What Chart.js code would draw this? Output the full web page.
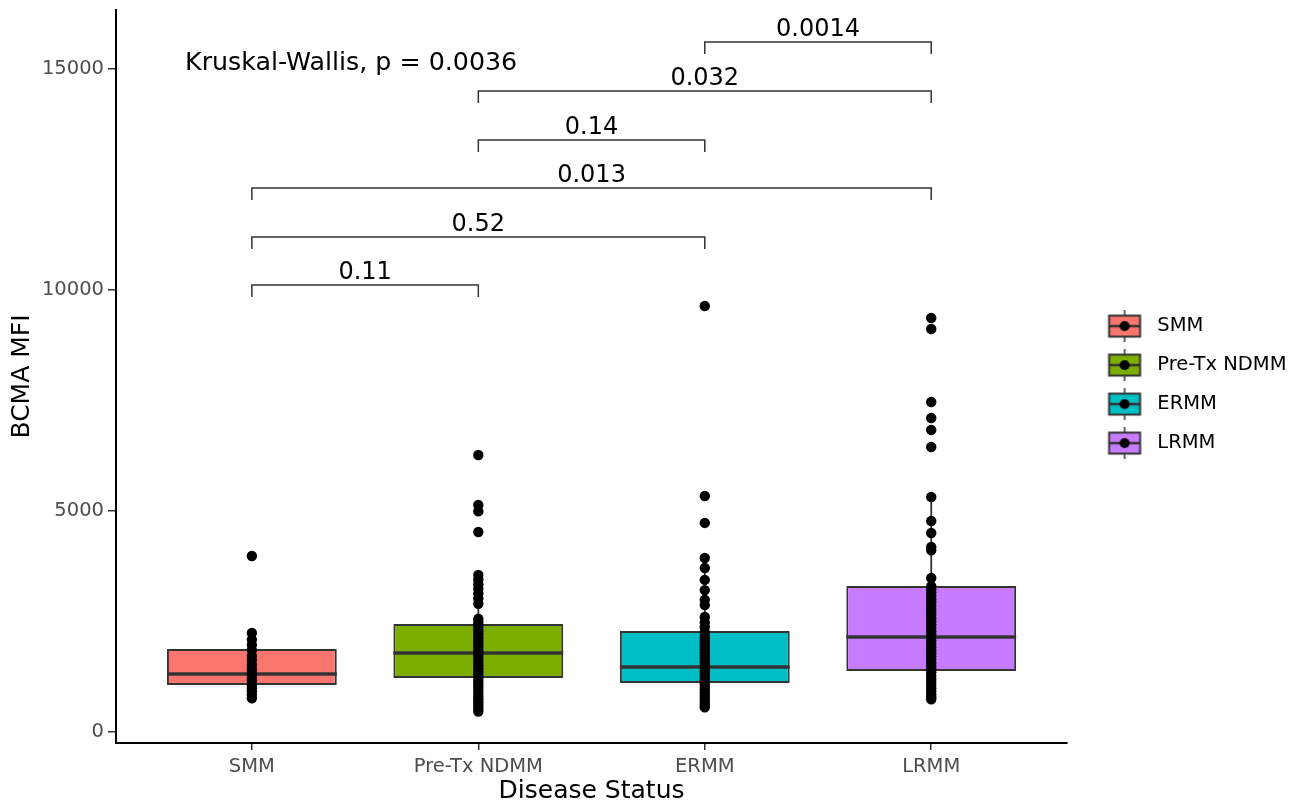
<!DOCTYPE html>
<html>
<head>
<meta charset="utf-8">
<title>BCMA MFI by disease status</title>
<script src="https://cdn.jsdelivr.net/npm/chart.js@4.4.1/dist/chart.umd.min.js"></script>
<style>
    html, body { margin: 0; padding: 0; background: #fff; }
    #wrap { width: 1302px; height: 807px; }
</style>
</head>
<body>
<div id="wrap"><canvas id="bcma-chart"></canvas></div>
<script>
// categories and box colours
const categories = ["SMM", "Pre-Tx NDMM", "ERMM", "LRMM"];
const boxColors = ["#F8766D", "#7CAE00", "#00BFC4", "#C77CFF"];

// box statistics
const q1Values = [1063, 1222, 1109, 1380];
const medianValues = [1312, 1787, 1470, 2149];
const q3Values = [1878, 2443, 2285, 3303];
const whiskerLow = [760, 460, 560, 740];
const whiskerHigh = [2240, 3552, 3937, 5317];

// individual measurements (dots)
const smmPoints = [3980, 2240, 2090, 1970, 1850, 1720, 1630, 1520, 1430, 1360, 1290, 1210, 1140, 1060, 990, 920, 840, 760];
const preTxPoints = [6267, 5135, 4990, 4525, 3552, 3450, 3340, 3240, 3130, 3020, 2900, 2560, 2490, 2420, 2350, 2280, 2210,
    2140, 2070, 2000, 1930, 1860, 1790, 1720, 1650, 1580, 1510, 1440, 1370, 1300, 1230, 1160, 1090, 1020, 950, 880, 810,
    740, 670, 600, 530, 460];
const ermmPoints = [9638, 5339, 4729, 3937, 3710, 3440, 3210, 2990, 2870, 2600, 2480, 2375, 2250, 2150, 2080, 2010, 1940,
    1870, 1800, 1730, 1660, 1590, 1520, 1450, 1380, 1310, 1240, 1170, 1100, 1030, 960, 890, 820, 750, 680, 610, 560];
const lrmmPoints = [9366, 9118, 7466, 7104, 6833, 6448, 5317, 4774, 4502, 4186, 4110, 3484, 3300, 3230, 3160, 3080, 3010,
    2940, 2860, 2790, 2720, 2650, 2570, 2500, 2430, 2360, 2280, 2210, 2140, 2070, 2000, 1920, 1850, 1780, 1710, 1640, 1560,
    1490, 1420, 1350, 1270, 1200, 1130, 1060, 990, 920, 850, 790, 740];
const groupPoints = [smmPoints, preTxPoints, ermmPoints, lrmmPoints];

// pairwise comparisons
const bracketStart = [1, 1, 1, 2, 2, 3];
const bracketEnd = [2, 3, 4, 3, 4, 4];
const bracketY = [10113, 11199, 12308, 13394, 14502, 15611];
const bracketLabels = ["0.11", "0.52", "0.013", "0.14", "0.032", "0.0014"];
const bracketTip = 270;

const kruskalText = "Kruskal-Wallis, p = 0.0036";
const kruskalX = 0.705;
const kruskalY = 14980;

const yTicks = [0, 5000, 10000, 15000];

// build datasets from the arrays
const boxData = categories.map((c, i) => ({ x: i + 1, y: [q1Values[i], q3Values[i]] }));
const medianData = categories.map((c, i) => ({ x: i + 1, y: medianValues[i] }));

const whiskerData = [];
categories.forEach((c, i) => {
    whiskerData.push({ x: i + 1, y: q3Values[i] }, { x: i + 1, y: whiskerHigh[i] }, { x: i + 1, y: null });
    whiskerData.push({ x: i + 1, y: whiskerLow[i] }, { x: i + 1, y: q1Values[i] }, { x: i + 1, y: null });
});

const pointData = [];
groupPoints.forEach((list, i) => {
    list.forEach(v => pointData.push({ x: i + 1, y: v }));
});

const bracketData = [];
bracketStart.forEach((s, i) => {
    const e = bracketEnd[i];
    const top = bracketY[i];
    bracketData.push({ x: s, y: top - bracketTip }, { x: s, y: top }, { x: e, y: top }, { x: e, y: top - bracketTip }, { x: e, y: null });
});

// little boxplot glyphs for the legend keys
function legendGlyph(color) {
    const c = document.createElement("canvas");
    c.width = 61;
    c.height = 32;
    const g = c.getContext("2d");
    const cx = 38, cy = 16;
    g.strokeStyle = "#333";
    g.lineWidth = 1.5;
    g.beginPath();
    g.moveTo(cx, 0);
    g.lineTo(cx, 32);
    g.stroke();
    g.fillStyle = color;
    g.fillRect(22.5, 5.5, 31, 21);
    g.lineWidth = 2;
    g.strokeRect(22.5, 5.5, 31, 21);
    g.lineWidth = 2.5;
    g.beginPath();
    g.moveTo(23, cy);
    g.lineTo(53, cy);
    g.stroke();
    g.fillStyle = "#000";
    g.beginPath();
    g.arc(cx, cy, 5, 0, Math.PI * 2);
    g.fill();
    return c;
}
const legendGlyphs = boxColors.map(legendGlyph);

// p-value labels and the Kruskal-Wallis note
const pValuePlugin = {
    id: "pValues",
    afterDatasetsDraw(chart) {
        const { ctx, scales: { x, y } } = chart;
        ctx.save();
        ctx.fillStyle = "#000";
        ctx.textBaseline = "alphabetic";
        ctx.font = '24px "DejaVu Sans"';
        ctx.textAlign = "center";
        bracketLabels.forEach((t, i) => {
            const px = x.getPixelForValue((bracketStart[i] + bracketEnd[i]) / 2);
            const py = y.getPixelForValue(bracketY[i]) - 6;
            ctx.fillText(t, px, py);
        });
        ctx.font = '25.3px "DejaVu Sans"';
        ctx.textAlign = "left";
        ctx.fillText(kruskalText, x.getPixelForValue(kruskalX), y.getPixelForValue(kruskalY));
        ctx.restore();
    }
};

const ctx = document.getElementById("bcma-chart").getContext("2d");
new Chart(ctx, {
    type: "bar",
    data: {
        datasets: [
            {
                type: "scatter",
                label: "points",
                data: pointData,
                pointRadius: 5.2,
                pointHoverRadius: 5.2,
                backgroundColor: "#000",
                borderWidth: 0,
                order: 0
            },
            {
                type: "scatter",
                label: "median",
                data: medianData,
                pointStyle: "line",
                pointRadius: c => c.chart.scales.x.getPixelForValue(1.375) - c.chart.scales.x.getPixelForValue(1),
                borderColor: "#333",
                borderWidth: 3.5,
                order: 1
            },
            {
                type: "line",
                label: "whiskers",
                data: whiskerData,
                borderColor: "#333",
                borderWidth: 1.8,
                pointRadius: 0,
                spanGaps: false,
                order: 2
            },
            {
                type: "line",
                label: "brackets",
                data: bracketData,
                borderColor: "#333",
                borderWidth: 1.5,
                pointRadius: 0,
                spanGaps: false,
                order: 2
            },
            {
                label: "boxes",
                data: boxData,
                backgroundColor: boxColors,
                borderColor: "#333",
                borderWidth: 2,
                borderSkipped: false,
                barPercentage: 0.75,
                categoryPercentage: 1,
                grouped: false,
                order: 3
            }
        ]
    },
    options: {
        responsive: true,
        maintainAspectRatio: false,
        animation: false,
        events: [],
        layout: { padding: { top: 10, right: 5.5, left: 0, bottom: 0 } },
        scales: {
            x: {
                type: "linear",
                min: 0.4,
                max: 4.6,
                offset: false,
                afterFit: s => {
                    s.height = 64;
                    s.paddingLeft = 0;
                    s.paddingRight = 0;
                },
                afterBuildTicks: s => { s.ticks = categories.map((c, i) => ({ value: i + 1 })); },
                ticks: {
                    callback: v => categories[v - 1],
                    color: "#4D4D4D",
                    font: { family: "DejaVu Sans", size: 19.5 },
                    padding: 5,
                    maxRotation: 0
                },
                grid: { display: true, drawOnChartArea: false, drawTicks: true, tickLength: 7, color: "#333", lineWidth: 1.5, offset: false },
                border: { display: true, color: "#000", width: 2 },
                title: {
                    display: true,
                    text: "Disease Status",
                    color: "#000",
                    font: { family: "DejaVu Sans", size: 25 },
                    padding: { top: 0, bottom: 1 }
                }
            },
            y: {
                type: "linear",
                min: -250,
                max: 16335,
                afterFit: s => {
                    s.width = 116;
                    s.paddingTop = 0;
                    s.paddingBottom = 0;
                },
                afterBuildTicks: s => { s.ticks = yTicks.map(v => ({ value: v })); },
                ticks: {
                    callback: v => String(v),
                    color: "#4D4D4D",
                    font: { family: "DejaVu Sans", size: 19.5 },
                    padding: 4
                },
                grid: { display: true, drawOnChartArea: false, drawTicks: true, tickLength: 8, color: "#333", lineWidth: 1.5 },
                border: { display: true, color: "#000", width: 2 },
                title: {
                    display: true,
                    text: "BCMA MFI",
                    color: "#000",
                    font: { family: "DejaVu Sans", size: 25 },
                    padding: { top: 7, bottom: 0 }
                }
            }
        },
        plugins: {
            tooltip: { enabled: false },
            legend: {
                position: "right",
                fullSize: false,
                title: { display: true, text: "", font: { size: 1 }, padding: 7.5 },
                labels: {
                    usePointStyle: true,
                    pointStyleWidth: 61,
                    padding: 19.5,
                    color: "#000",
                    font: { family: "DejaVu Sans", size: 19.5 },
                    generateLabels: () => categories.map((c, i) => ({
                        text: c,
                        fontColor: "#000",
                        pointStyle: legendGlyphs[i],
                        fillStyle: boxColors[i],
                        strokeStyle: "#333",
                        lineWidth: 0,
                        hidden: false,
                        datasetIndex: 4
                    }))
                }
            }
        }
    },
    plugins: [pValuePlugin]
});
</script>
</body>
</html>
